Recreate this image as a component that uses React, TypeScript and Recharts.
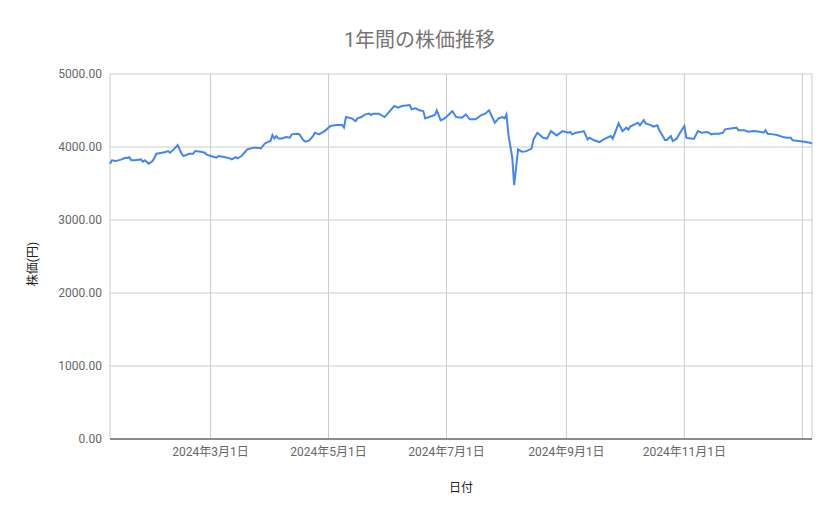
import { LineChart, Line, XAxis, YAxis, CartesianGrid } from 'recharts'

const FONT = "Roboto, 'Noto Sans CJK JP', sans-serif"

// 日付(取引日)
const dates = [
  '2024-01-09', '2024-01-10', '2024-01-12', '2024-01-15', '2024-01-17', '2024-01-18',
  '2024-01-19', '2024-01-20', '2024-01-22', '2024-01-25', '2024-01-26', '2024-01-27',
  '2024-01-29', '2024-01-31', '2024-02-01', '2024-02-02', '2024-02-05', '2024-02-07',
  '2024-02-08', '2024-02-09', '2024-02-11', '2024-02-13', '2024-02-15', '2024-02-16',
  '2024-02-19', '2024-02-21', '2024-02-22', '2024-02-25', '2024-02-27', '2024-02-28',
  '2024-03-02', '2024-03-04', '2024-03-05', '2024-03-08', '2024-03-11', '2024-03-12',
  '2024-03-14', '2024-03-15', '2024-03-17', '2024-03-18', '2024-03-20', '2024-03-23',
  '2024-03-25', '2024-03-27', '2024-03-29', '2024-03-31', '2024-04-01', '2024-04-02',
  '2024-04-03', '2024-04-04', '2024-04-05', '2024-04-07', '2024-04-09', '2024-04-11',
  '2024-04-12', '2024-04-15', '2024-04-16', '2024-04-18', '2024-04-19', '2024-04-21',
  '2024-04-23', '2024-04-24', '2024-04-26', '2024-04-29', '2024-05-02', '2024-05-05',
  '2024-05-08', '2024-05-09', '2024-05-10', '2024-05-13', '2024-05-15', '2024-05-16',
  '2024-05-18', '2024-05-20', '2024-05-22', '2024-05-23', '2024-05-24', '2024-05-27',
  '2024-05-30', '2024-06-01', '2024-06-04', '2024-06-06', '2024-06-08', '2024-06-12',
  '2024-06-13', '2024-06-15', '2024-06-17', '2024-06-19', '2024-06-20', '2024-06-22',
  '2024-06-25', '2024-06-26', '2024-06-28', '2024-06-30', '2024-07-02', '2024-07-04',
  '2024-07-06', '2024-07-09', '2024-07-11', '2024-07-13', '2024-07-16', '2024-07-19',
  '2024-07-21', '2024-07-23', '2024-07-26', '2024-07-28', '2024-07-30', '2024-07-31',
  '2024-08-01', '2024-08-02', '2024-08-04', '2024-08-05', '2024-08-07', '2024-08-09',
  '2024-08-11', '2024-08-14', '2024-08-15', '2024-08-17', '2024-08-20', '2024-08-22',
  '2024-08-24', '2024-08-27', '2024-08-30', '2024-09-02', '2024-09-03', '2024-09-04',
  '2024-09-06', '2024-09-08', '2024-09-10', '2024-09-12', '2024-09-13', '2024-09-15',
  '2024-09-18', '2024-09-21', '2024-09-24', '2024-09-25', '2024-09-28', '2024-09-30',
  '2024-10-02', '2024-10-03', '2024-10-04', '2024-10-08', '2024-10-09', '2024-10-11',
  '2024-10-12', '2024-10-15', '2024-10-16', '2024-10-18', '2024-10-19', '2024-10-22',
  '2024-10-23', '2024-10-25', '2024-10-26', '2024-10-28', '2024-10-30', '2024-11-01',
  '2024-11-02', '2024-11-05', '2024-11-06', '2024-11-08', '2024-11-10', '2024-11-13',
  '2024-11-15', '2024-11-16', '2024-11-19', '2024-11-21', '2024-11-22', '2024-11-25',
  '2024-11-28', '2024-11-29', '2024-12-02', '2024-12-04', '2024-12-07', '2024-12-10',
  '2024-12-12', '2024-12-13', '2024-12-14', '2024-12-17', '2024-12-19', '2024-12-22',
  '2024-12-24', '2024-12-26', '2024-12-27', '2024-12-30', '2025-01-02', '2025-01-05',
  '2025-01-06',
]

// 株価(円)
const prices = [
  3771, 3817, 3807, 3830, 3853, 3850,
  3860, 3817, 3817, 3830, 3799, 3817,
  3771, 3807, 3853, 3908, 3922, 3936,
  3945, 3922, 3967, 4027, 3908, 3876,
  3908, 3908, 3945, 3936, 3922, 3895,
  3870, 3853, 3876, 3862, 3844, 3830,
  3862, 3844, 3876, 3908, 3967, 3990,
  3990, 3981, 4045, 4073, 4082, 4164,
  4118, 4150, 4118, 4118, 4136, 4127,
  4173, 4182, 4173, 4091, 4073, 4091,
  4150, 4196, 4173, 4218, 4287, 4301,
  4301, 4265, 4410, 4392, 4356, 4392,
  4410, 4447, 4457, 4438, 4457, 4457,
  4410, 4471, 4561, 4539, 4561, 4575,
  4516, 4530, 4502, 4493, 4392, 4410,
  4438, 4502, 4365, 4392, 4438, 4493,
  4410, 4402, 4447, 4379, 4379, 4438,
  4457, 4502, 4333, 4392, 4410, 4392,
  4447, 4173, 3853, 3478, 3967, 3936,
  3940, 3977, 4105, 4196, 4127, 4114,
  4218, 4159, 4218, 4196, 4205, 4173,
  4196, 4205, 4218, 4105, 4127, 4095,
  4068, 4114, 4150, 4114, 4324, 4218,
  4265, 4237, 4279, 4333, 4297, 4370,
  4324, 4297, 4279, 4297, 4233, 4095,
  4095, 4150, 4082, 4114, 4205, 4287,
  4127, 4114, 4114, 4218, 4196, 4205,
  4173, 4182, 4182, 4196, 4242, 4255,
  4265, 4228, 4228, 4210, 4218, 4210,
  4196, 4228, 4182, 4173, 4164, 4136,
  4127, 4127, 4091, 4082, 4073, 4059,
  4045,
]

const tickDates = ['2024-03-01', '2024-05-01', '2024-07-01', '2024-09-01', '2024-11-01', '2025-01-01']
const tickLabels = ['2024年3月1日', '2024年5月1日', '2024年7月1日', '2024年9月1日', '2024年11月1日', '']
const yTicks = [0, 1000, 2000, 3000, 4000, 5000]

const toTime = (d: string) => Date.parse(d + 'T00:00:00Z')

const chartData = dates.map((d, i) => ({ t: toTime(d), price: prices[i] }))
const xTicks = tickDates.map(toTime)

export default function App() {
  return (
    <div style={{ position: 'relative', width: 839, height: 519, fontFamily: FONT, background: '#fff' }}>
      <style>{'body{margin:0}'}</style>
      <div
        style={{
          position: 'absolute',
          left: 0,
          top: 24,
          width: 839,
          textAlign: 'center',
          fontSize: 20,
          color: '#757575',
        }}
      >
        1年間の株価推移
      </div>
      <LineChart
        width={839}
        height={519}
        data={chartData}
        margin={{ top: 74, right: 27, bottom: 50, left: 0 }}
      >
        <CartesianGrid stroke='#cccccc' />
        <XAxis
          dataKey='t'
          type='number'
          domain={['dataMin', 'dataMax']}
          ticks={xTicks}
          tickFormatter={(v: number) => tickLabels[xTicks.indexOf(v)] ?? ''}
          tickLine={false}
          axisLine={{ stroke: '#333333' }}
          tick={{ fill: '#666666', fontSize: 12, fontFamily: FONT }}
          height={30}
          interval={0}
          label={{
            content: () => (
              <text x={461} y={492} textAnchor='middle' fill='#222222' fontSize={12} fontFamily={FONT}>
                日付
              </text>
            ),
          }}
        />
        <YAxis
          type='number'
          domain={[0, 5000]}
          ticks={yTicks}
          tickFormatter={(v: number) => v.toFixed(2)}
          tickLine={false}
          axisLine={false}
          width={110}
          tick={{ fill: '#666666', fontSize: 12, fontFamily: FONT }}
          label={{
            content: () => (
              <text
                x={37}
                y={264}
                transform='rotate(-90 37 264)'
                textAnchor='middle'
                fill='#222222'
                fontSize={12}
                fontFamily={FONT}
              >
                株価(円)
              </text>
            ),
          }}
        />
        <Line
          type='linear'
          dataKey='price'
          stroke='#4285f4'
          strokeWidth={2}
          dot={false}
          activeDot={false}
          isAnimationActive={false}
        />
      </LineChart>
    </div>
  )
}
